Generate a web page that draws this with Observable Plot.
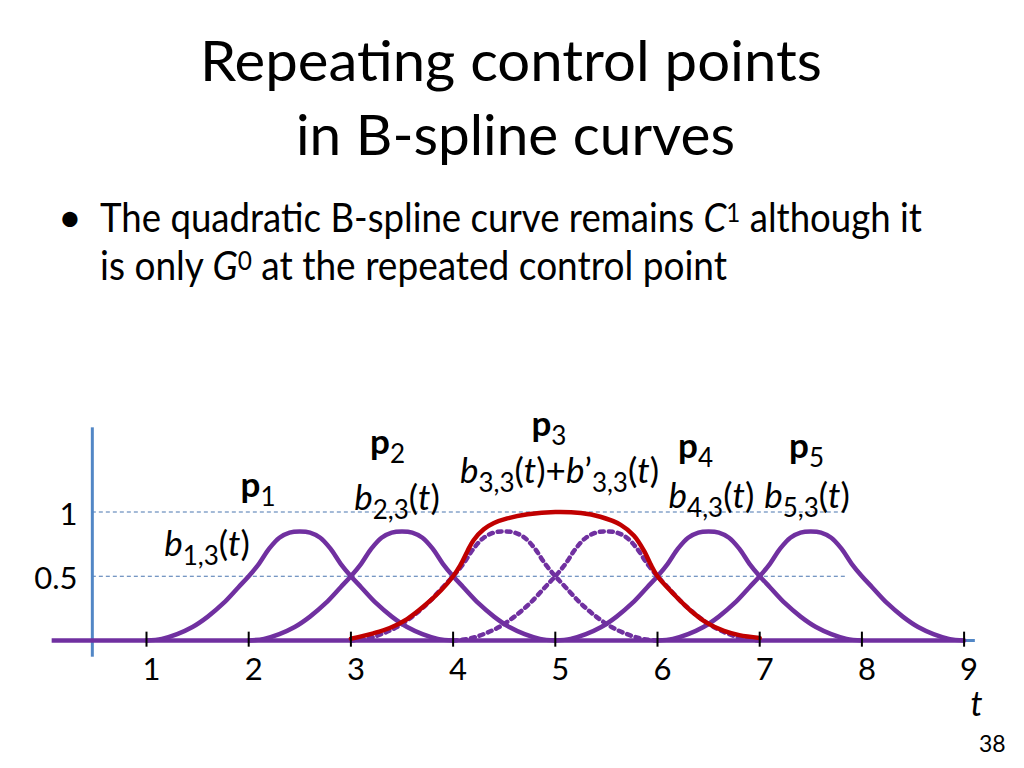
<!DOCTYPE html>
<html>
<head>
<meta charset="utf-8">
<script src="https://cdn.jsdelivr.net/npm/d3@7"></script>
<script src="https://cdn.jsdelivr.net/npm/@observablehq/plot@0.6"></script>
<style>
html,body{margin:0;padding:0;background:#fff;}
body{width:1024px;height:768px;position:relative;overflow:hidden;font-family:Lato,"Open Sans",sans-serif;color:#000;}
.ln{position:absolute;white-space:nowrap;line-height:1.2;left:0;top:0;}
.ttl{font-size:57px;}
.bul{font-size:41px;}
.ln sup{font-size:0.66em;vertical-align:0.38em;line-height:0;}
#chart{position:absolute;left:0;top:380px;width:1024px;height:388px;}
</style>
</head>
<body>
<div class="ln ttl" id="t1">Repeating control points</div>
<div class="ln ttl" id="t2">in B-spline curves</div>
<div class="ln bul" id="bdot">•</div>
<div class="ln bul" id="b1">The quadratic B-spline curve remains <i>C</i><sup>1</sup> although it</div>
<div class="ln bul" id="b2">is only <i>G</i><sup>0</sup> at the repeated control point</div>
<div id="chart"></div>
<div class="ln" id="pg" style="font-size:23px">38</div>
<script>
// ---------------- data ----------------
const tickLabels = [1, 2, 3, 4, 5, 6, 7, 8, 9];
const yTickValues = [0.5, 1];

// one quadratic basis bump (same shape for every b)
const bumpValues = [0, 0.013, 0.05, 0.105, 0.186, 0.288, 0.415, 0.5,
  0.597, 0.715, 0.8, 0.84, 0.848, 0.84, 0.8, 0.715, 0.597,
  0.5, 0.415, 0.288, 0.186, 0.105, 0.05, 0.013, 0];

const b13T  = [1, 1.15, 1.3, 1.45, 1.6, 1.75, 1.9, 2, 2.1, 2.2, 2.3, 2.4, 2.5, 2.6, 2.7, 2.8, 2.9, 3, 3.1, 3.25, 3.4, 3.55, 3.7, 3.85, 4];
const b23T  = [2, 2.15, 2.3, 2.45, 2.6, 2.75, 2.9, 3, 3.1, 3.2, 3.3, 3.4, 3.5, 3.6, 3.7, 3.8, 3.9, 4, 4.1, 4.25, 4.4, 4.55, 4.7, 4.85, 5];
const b33T  = [3, 3.15, 3.3, 3.45, 3.6, 3.75, 3.9, 4, 4.1, 4.2, 4.3, 4.4, 4.5, 4.6, 4.7, 4.8, 4.9, 5, 5.1, 5.25, 5.4, 5.55, 5.7, 5.85, 6];
const b33pT = [4, 4.15, 4.3, 4.45, 4.6, 4.75, 4.9, 5, 5.1, 5.2, 5.3, 5.4, 5.5, 5.6, 5.7, 5.8, 5.9, 6, 6.1, 6.25, 6.4, 6.55, 6.7, 6.85, 7];
const b43T  = [5, 5.15, 5.3, 5.45, 5.6, 5.75, 5.9, 6, 6.1, 6.2, 6.3, 6.4, 6.5, 6.6, 6.7, 6.8, 6.9, 7, 7.1, 7.25, 7.4, 7.55, 7.7, 7.85, 8];
const b53T  = [6, 6.15, 6.3, 6.45, 6.6, 6.75, 6.9, 7, 7.1, 7.2, 7.3, 7.4, 7.5, 7.6, 7.7, 7.8, 7.9, 8, 8.1, 8.25, 8.4, 8.55, 8.7, 8.85, 9];

// b3,3 + b'3,3 (red)
const sumT = [3, 3.22, 3.38, 3.55, 3.71, 3.88, 4, 4.07, 4.14, 4.2, 4.3, 4.4, 4.53, 4.73, 5,
  5.25, 5.44, 5.64, 5.77, 5.87, 5.93, 6, 6.16, 6.32, 6.48, 6.65, 6.8, 7];
const sumV = [0.014, 0.056, 0.097, 0.167, 0.264, 0.389, 0.5, 0.585, 0.695, 0.78, 0.865, 0.914, 0.95, 0.982, 1.0,
  0.992, 0.963, 0.9, 0.815, 0.695, 0.597, 0.5, 0.36, 0.236, 0.139, 0.075, 0.042, 0.02];

// curve annotations (markup: **bold**, *italic*, _{subscript})
const labelText = ["**p**_{1}", "*b*_{1,3}(*t*)", "**p**_{2}", "*b*_{2,3}(*t*)", "**p**_{3}",
  "*b*_{3,3}(*t*)+*b*’_{3,3}(*t*)", "**p**_{4}", "*b*_{4,3}(*t*)", "**p**_{5}", "*b*_{5,3}(*t*)"];
const labelT = [2.091, 1.592, 3.358, 3.451, 4.938, 5.041, 6.372, 6.528, 7.458, 7.463];
const labelV = [1.113, 0.661, 1.455, 1.012, 1.595, 1.222, 1.424, 1.035, 1.424, 1.035];
const axisTitle = "*t*";

// ---------------- styling / layout ----------------
const purple = "#7030a0", red = "#c00000", axisBlue = "#5287c6", gridBlue = "#4a76b0";

const rowsOf = (name, T, V) => T.map((t, i) => ({name, t, v: V[i]}));
const solidRows = [
  ...rowsOf("b13", b13T, bumpValues), ...rowsOf("b23", b23T, bumpValues),
  ...rowsOf("b43", b43T, bumpValues), ...rowsOf("b53", b53T, bumpValues)];
const dottedRows = [...rowsOf("b33", b33T, bumpValues), ...rowsOf("b33p", b33pT, bumpValues)];
const sumRows = rowsOf("sum", sumT, sumV);
const labelRows = labelText.map((s, i) => ({s, t: labelT[i], v: labelV[i]}));

const chart = Plot.plot({
  width: 1024, height: 388,
  marginLeft: 92, marginRight: 0, marginTop: 0, marginBottom: 128,
  x: {domain: [0, 9], range: [43.8, 963.6], label: null},
  y: {domain: [0, 1], range: [260, 131.5], label: null},
  style: {fontFamily: "Lato, 'Open Sans', sans-serif", fontSize: "31px", background: "transparent", overflow: "visible", color: "#000"},
  marks: [
    Plot.ruleY([0], {x1: 0.08, x2: 9.11, stroke: axisBlue, strokeWidth: 3}),
    Plot.ruleY(yTickValues, {x1: 0.47, x2: 7.86, stroke: gridBlue, strokeWidth: 1.1, strokeDasharray: "4,3"}),
    Plot.ruleX([0.47], {y1: -0.13, y2: 1.655, stroke: axisBlue, strokeWidth: 3}),
    Plot.line(dottedRows, {x: "t", y: "v", z: "name", stroke: purple, strokeWidth: 4.5, strokeDasharray: "4,5", curve: "catmull-rom"}),
    Plot.ruleY([0], {x1: 0.077, x2: 9, stroke: purple, strokeWidth: 4.5}),
    Plot.line(solidRows, {x: "t", y: "v", z: "name", stroke: purple, strokeWidth: 4.5, curve: "catmull-rom"}),
    Plot.line(sumRows, {x: "t", y: "v", stroke: red, strokeWidth: 4.5, curve: "catmull-rom"}),
    Plot.ruleX(tickLabels, {y1: -0.052, y2: 0.065, stroke: "#000", strokeWidth: 2}),
    Plot.axisX(tickLabels, {anchor: "bottom", tickSize: 0, tickPadding: 17, dx: 5, fontSize: 31, tickFormat: d => String(d)}),
    Plot.axisY(yTickValues, {anchor: "left", tickSize: 0, tickPadding: 15, dy: 3, fontSize: 31, tickFormat: d => String(d)}),
    Plot.text(labelRows, {x: "t", y: "v", text: "s", fontSize: 35}),
    Plot.text([axisTitle], {x: 9.121, y: -0.584, text: d => d, fontSize: 34})
  ]
});
document.getElementById("chart").appendChild(chart);

// turn the markup in the annotation texts into tspans
const svgNS = "http://www.w3.org/2000/svg";
const subSize = 26, subShift = 9;
Array.from(chart.querySelectorAll("text")).filter(el => /[*_]/.test(el.textContent)).forEach(el => {
  const src = el.textContent;
  if (el.hasAttribute("dy")) el.removeAttribute("dy");
  const ya = el.getAttribute("y");
  if (ya && /em$/.test(ya)) el.setAttribute("y", "0");
  while (el.firstChild) el.removeChild(el.firstChild);
  const re = /\*\*([^*]+)\*\*|\*([^*]+)\*|_\{([^}]+)\}|([^*_]+)/g;
  let m, inSub = false;
  while ((m = re.exec(src))) {
    const ts = document.createElementNS(svgNS, "tspan");
    if (m[3]) {
      ts.textContent = m[3];
      ts.setAttribute("font-size", subSize);
      ts.setAttribute("dy", inSub ? 0 : subShift);
      inSub = true;
    } else {
      if (m[1]) { ts.textContent = m[1]; ts.setAttribute("font-weight", "bold"); }
      else if (m[2]) { ts.textContent = m[2]; ts.setAttribute("font-style", "italic"); }
      else ts.textContent = m[4];
      if (inSub) ts.setAttribute("dy", -subShift);
      inSub = false;
    }
    el.appendChild(ts);
  }
});

// place the slide texts by baseline and horizontal extent
function place(id, left, right, baseline) {
  const el = document.getElementById(id);
  const probe = document.createElement("span");
  probe.style.cssText = "display:inline-block;width:0;height:0;vertical-align:baseline";
  el.appendChild(probe);
  const base = probe.offsetTop;
  const w = el.getBoundingClientRect().width;
  el.style.left = left + "px";
  el.style.top = (baseline - base) + "px";
  if (right != null) {
    el.style.transformOrigin = "0 0";
    el.style.transform = `scaleX(${(right - left) / w})`;
  }
}
place("t1", 200, 822, 81);
place("t2", 296, 735, 155);
place("bdot", 58, null, 232);
place("b1", 100, 922, 232);
place("b2", 100, 727, 280);
place("pg", 979, null, 752);
</script>
</body>
</html>
